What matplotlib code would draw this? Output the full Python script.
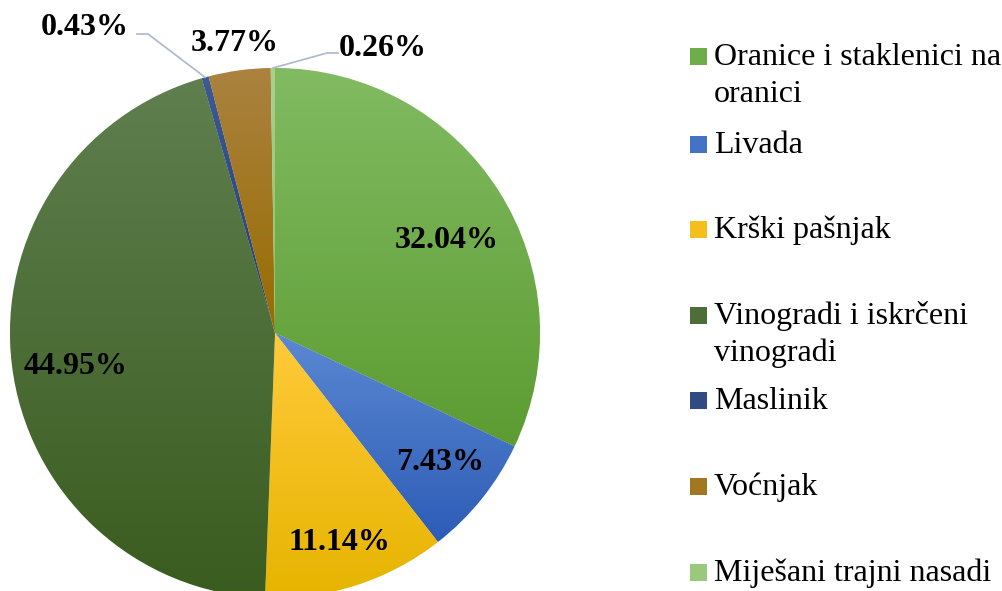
import matplotlib.pyplot as plt
import numpy as np
from matplotlib.colors import LinearSegmentedColormap, to_rgb
from matplotlib.patches import Rectangle

categories = ['Oranice i staklenici na\noranici', 'Livada', 'Krški pašnjak',
              'Vinogradi i iskrčeni\nvinogradi', 'Maslinik', 'Voćnjak',
              'Miješani trajni nasadi']
shares = [32.04, 7.43, 11.14, 44.95, 0.43, 3.77, 0.26]
labels = ['32.04%', '7.43%', '11.14%', '44.95%', '0.43%', '3.77%', '0.26%']

# gradient colours (top, bottom) per slice, excel-like
top_colors = ['#82bb62', '#5c88d2', '#ffca3a', '#5f7f4f', '#3e5a94', '#ab8240', '#a9d18e']
bottom_colors = ['#5c9c32', '#2c5cb6', '#e6b400', '#3a5c1f', '#223c70', '#976c00', '#8cc06a']

# label centres in pixel coords (x, y from top)
label_pos = [(447, 240), (440, 463), (339, 543), (76, 366), (85, 27), (235, 43), (383, 48)]

plt.rcParams['font.family'] = ['Liberation Serif', 'DejaVu Serif']

fig = plt.figure(figsize=(10.03, 5.91), dpi=100)
ax = fig.add_axes([0, 0, 1, 1])
H = 591

cx, cy, R = 275, H - 333, 265
wedges, _ = ax.pie(shares, startangle=90, counterclock=False, center=(cx, cy), radius=R,
                   colors=bottom_colors, wedgeprops=dict(linewidth=0.6, edgecolor='white'))

grad = np.linspace(0, 1, 256).reshape(-1, 1)
for w, ct, cb in zip(wedges, top_colors, bottom_colors):
    bb = w.get_path().get_extents()
    cmap = LinearSegmentedColormap.from_list('g', [cb, ct])
    im = ax.imshow(grad, extent=[bb.x0, bb.x1, bb.y0, bb.y1], origin='lower',
                   cmap=cmap, aspect='auto', zorder=w.get_zorder() + 0.1)
    im.set_clip_path(w)

# data labels
for lab, (x, y) in zip(labels, label_pos):
    ax.text(x, H - y, lab, ha='center', va='center', fontsize=23,
            fontweight='bold', zorder=5)

def edge(w):
    a = np.deg2rad((w.theta1 + w.theta2) / 2)
    return cx + R * np.cos(a), cy + R * np.sin(a)

lc = '#aab8cc'
ex, ey = edge(wedges[4])
ax.plot([ex, 148, 137], [ey, H - 34, H - 34], color=lc, lw=1.2, zorder=4)
ex, ey = edge(wedges[6])
ax.plot([ex, 327, 338], [ey, H - 53, H - 53], color=lc, lw=1.2, zorder=4)

# legend
leg_y = [57, 145, 230, 316, 401, 487, 573]
for name, y, ct, cb in zip(categories, leg_y, top_colors, bottom_colors):
    c = tuple((np.array(to_rgb(ct)) + np.array(to_rgb(cb))) / 2)
    ax.add_patch(Rectangle((690, H - y - 8), 17, 17, facecolor=c, edgecolor='none'))
    for k, line in enumerate(name.split('\n')):
        ax.text(714, H - (y + 8 + 36.7 * k), line, ha='left', va='baseline', fontsize=23)

ax.set_xlim(0, 1003)
ax.set_ylim(0, H)
ax.set_aspect('equal')
ax.axis('off')

fig.savefig('out.png', dpi=100)
